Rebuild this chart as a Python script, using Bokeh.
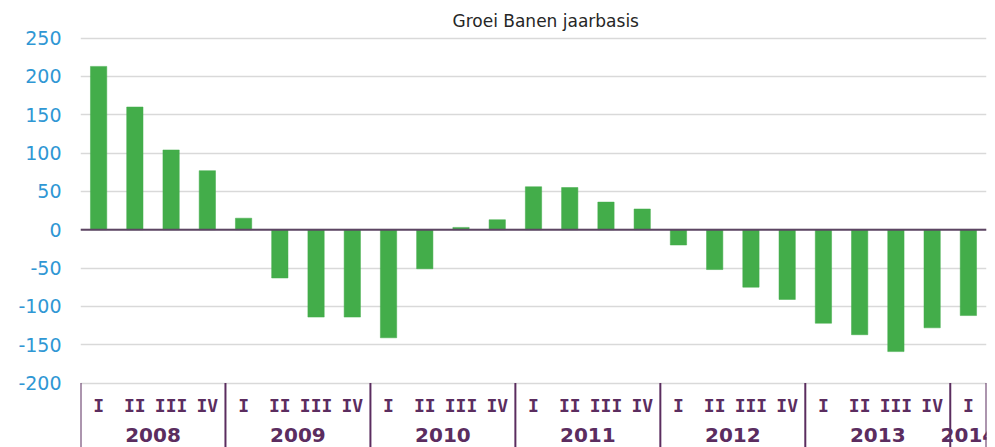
from bokeh.plotting import figure
from bokeh.models import Range1d, FixedTicker, Span, ColumnDataSource
from bokeh.embed import file_html
from bokeh.resources import INLINE
from bokeh.core.properties import value

# ---- data ----
period_year = ["2008", "2008", "2008", "2008",
               "2009", "2009", "2009", "2009",
               "2010", "2010", "2010", "2010",
               "2011", "2011", "2011", "2011",
               "2012", "2012", "2012", "2012",
               "2013", "2013", "2013", "2013",
               "2014"]
period_quarter = ["I", "II", "III", "IV",
                  "I", "II", "III", "IV",
                  "I", "II", "III", "IV",
                  "I", "II", "III", "IV",
                  "I", "II", "III", "IV",
                  "I", "II", "III", "IV",
                  "I"]
growth = [213, 160, 104, 77,
          15, -63, -114, -114,
          -141, -51, 3, 13,
          56, 55, 36, 27,
          -20, -52, -75, -91,
          -122, -137, -159, -128,
          -112]
y_ticks = [-200, -150, -100, -50, 0, 50, 100, 150, 200, 250]
title_text = "Groei Banen jaarbasis"

# ---- derived positions ----
xs = list(range(len(growth)))
years = []
for y in period_year:
    if y not in years:
        years.append(y)
year_centers = []
bounds = []
for y in years:
    idx = [i for i, yy in enumerate(period_year) if yy == y]
    year_centers.append(sum(idx) / len(idx))
    bounds.append(idx[0] - 0.5)
bounds.append(len(growth) - 0.5)

Y_TOP = 253.3
Y_BOT = -284.1
Q_LABEL_Y = -229
YEAR_LABEL_Y = -268

PURPLE = "#5b2d5f"
BLUE = "#2f97d4"
GREEN = "#43ad4a"

p = figure(width=995, height=447, output_backend="svg", toolbar_location=None,
           x_range=Range1d(-0.5, len(growth) - 0.5), y_range=Range1d(Y_BOT, Y_TOP),
           x_axis_location=None, min_border_left=80, min_border_right=9,
           min_border_top=35, min_border_bottom=0)
p.outline_line_color = None
p.background_fill_color = "white"
p.border_fill_color = "white"

p.title.text = title_text
p.title.align = "left"
p.title.offset = 372
p.title.text_font = "DejaVu Sans"
p.title.text_font_size = "17px"
p.title.text_font_style = "normal"
p.title.text_color = "#262626"
p.title.standoff = 9

# y axis
p.yaxis.ticker = FixedTicker(ticks=y_ticks)
p.yaxis.major_label_overrides = {t: str(t) for t in y_ticks}
p.yaxis.axis_line_color = None
p.yaxis.major_tick_line_color = None
p.yaxis.minor_tick_line_color = None
p.yaxis.major_label_standoff = 13
p.yaxis.major_label_text_font = "DejaVu Sans"
p.yaxis.major_label_text_font_size = "19px"
p.yaxis.major_label_text_color = BLUE

p.xgrid.visible = False
p.ygrid.ticker = FixedTicker(ticks=y_ticks)
p.ygrid.grid_line_color = "#d9d9d9"
p.ygrid.grid_line_width = 1.5

src = ColumnDataSource(dict(x=xs, top=growth, q=period_quarter, yr=period_year))
p.vbar(x="x", top="top", bottom=0, width=0.45, source=src,
       fill_color=GREEN, line_color=GREEN, line_width=0.5)

p.add_layout(Span(location=0, dimension="width", line_color="#5d4563", line_width=2))

# category table below
p.segment(x0=bounds, x1=bounds, y0=[y_ticks[0]] * len(bounds), y1=[Y_BOT] * len(bounds),
          line_color=PURPLE, line_width=2)
p.text(x="x", y=Q_LABEL_Y, text="q", source=src,
       text_font=value("DejaVu Sans Mono"), text_font_style="bold",
       text_font_size="18px", text_color=PURPLE,
       text_align="center", text_baseline="middle")
p.text(x=year_centers, y=[YEAR_LABEL_Y] * len(years), text=years,
       text_font=value("DejaVu Sans"), text_font_style="bold",
       text_font_size="20px", text_color=PURPLE,
       text_align="center", text_baseline="middle")

open("out.html", "w").write(file_html(p, INLINE))
